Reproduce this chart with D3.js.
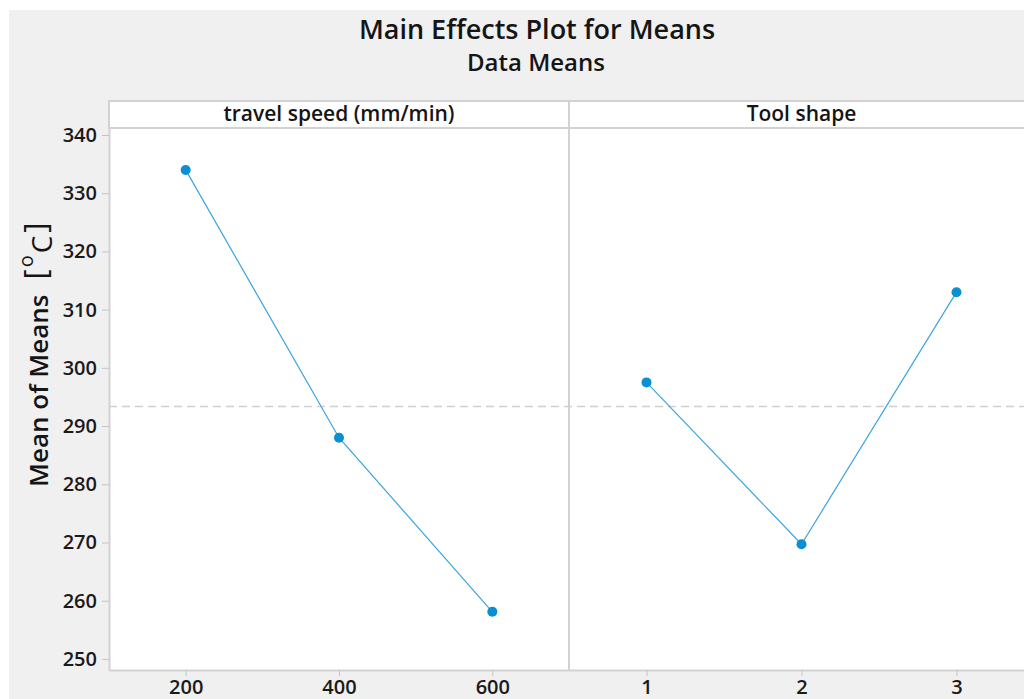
<!DOCTYPE html>
<html>
<head>
<meta charset="utf-8">
<script src="https://cdn.jsdelivr.net/npm/d3@7"></script>
<style>
  html, body { margin: 0; padding: 0; background: #fff; }
  svg { display: block; font-family: "Open Sans", "Noto Sans", sans-serif; }
</style>
</head>
<body>
<svg id="chart" width="1024" height="699"></svg>
<script>
// data
const speedLevels = [200, 400, 600];
const speedMeans = [334.0, 288.0, 258.1];
const shapeLevels = [1, 2, 3];
const shapeMeans = [297.5, 269.7, 313.0];
const yTicks = [250, 260, 270, 280, 290, 300, 310, 320, 330, 340];
const panelTitles = ["travel speed (mm/min)", "Tool shape"];

const grandMean = d3.mean(speedMeans);

const svg = d3.select("#chart");

// grey background of the figure
svg.append("rect")
  .attr("x", 9).attr("y", 10)
  .attr("width", 1015).attr("height", 689)
  .attr("fill", "#f0f0f0");

const plotTop = 128, plotBottom = 670, headTop = 101;

const y = d3.scaleLinear().domain([248.1, 341.2]).range([plotBottom, plotTop]);
const xSpeed = d3.scaleLinear().domain([100, 700]).range([109, 569]);
const xShape = d3.scaleLinear().domain([0.5, 3.5]).range([569, 1034]);

const panels = [
  { x: xSpeed, levels: speedLevels, means: speedMeans, title: panelTitles[0] },
  { x: xShape, levels: shapeLevels, means: shapeMeans, title: panelTitles[1] }
];

// plot areas + header strips
panels.forEach(p => {
  const [x0, x1] = p.x.range();
  svg.append("rect")
    .attr("x", x0).attr("y", plotTop)
    .attr("width", x1 - x0).attr("height", plotBottom - plotTop)
    .attr("fill", "#fff");
  svg.append("rect")
    .attr("x", x0).attr("y", headTop)
    .attr("width", x1 - x0).attr("height", plotTop - headTop)
    .attr("fill", "#fff")
    .attr("stroke", "#d2d2d2")
    .attr("stroke-width", 2);
  svg.append("text")
    .attr("x", (x0 + x1) / 2).attr("y", 121)
    .attr("text-anchor", "middle")
    .attr("font-size", 21)
    .attr("font-weight", 600)
    .attr("fill", "#151515")
    .text(p.title);
});

// panel separator
svg.append("line")
  .attr("x1", 569).attr("x2", 569).attr("y1", headTop).attr("y2", plotBottom)
  .attr("stroke", "#d2d2d2").attr("stroke-width", 2);

// grand mean reference line
svg.append("line")
  .attr("x1", 109).attr("x2", 1024)
  .attr("y1", y(grandMean)).attr("y2", y(grandMean))
  .attr("stroke", "#cfcfcf")
  .attr("stroke-width", 1.5)
  .attr("stroke-dasharray", "8,5");

// y axis
const yAxis = svg.append("g")
  .attr("transform", "translate(109,0)")
  .call(d3.axisLeft(y).tickValues(yTicks).tickSize(7).tickPadding(5).tickSizeOuter(0));
yAxis.select(".domain").attr("stroke", "#d2d2d2").attr("stroke-width", 2);
yAxis.selectAll(".tick line").attr("stroke", "#c4c4c4");
yAxis.selectAll(".tick text")
  .attr("font-size", 20).attr("font-weight", 600).attr("fill", "#1a1a1a")
  .attr("font-family", "Open Sans");

// x axes
panels.forEach(p => {
  const g = svg.append("g")
    .attr("transform", `translate(0,${plotBottom})`)
    .call(d3.axisBottom(p.x).tickValues(p.levels).tickFormat(d3.format("d"))
      .tickSize(6).tickPadding(4).tickSizeOuter(0));
  g.select(".domain").attr("stroke", "#d2d2d2").attr("stroke-width", 2);
  g.selectAll(".tick line").attr("stroke", "#c4c4c4");
  g.selectAll(".tick text")
    .attr("font-size", 20).attr("font-weight", 600).attr("fill", "#1a1a1a")
    .attr("font-family", "Open Sans");
});

// lines + markers
panels.forEach(p => {
  const pts = p.levels.map((l, i) => [p.x(l), y(p.means[i])]);
  svg.append("path")
    .attr("d", d3.line()(pts))
    .attr("fill", "none")
    .attr("stroke", "#3aa5dc")
    .attr("stroke-width", 1.2);
  svg.append("g").selectAll("circle")
    .data(pts)
    .join("circle")
    .attr("cx", d => d[0]).attr("cy", d => d[1])
    .attr("r", 5)
    .attr("fill", "#0a8fd2");
});

// titles
svg.append("text")
  .attr("x", 537).attr("y", 39)
  .attr("text-anchor", "middle")
  .attr("font-size", 27)
  .attr("font-weight", 600)
  .attr("fill", "#151515")
  .text("Main Effects Plot for Means");
svg.append("text")
  .attr("x", 536).attr("y", 71)
  .attr("text-anchor", "middle")
  .attr("font-size", 24)
  .attr("font-weight", 600)
  .attr("fill", "#151515")
  .text("Data Means");

// y label with degree symbol as raised o
const yl = svg.append("text")
  .attr("transform", "translate(48,487) rotate(-90)")
  .attr("font-size", 26)
  .attr("font-weight", 600)
  .attr("fill", "#151515");
yl.append("tspan").text("Mean of Means");
yl.append("tspan").attr("font-size", 31).attr("font-weight", 400).attr("dx", 15).attr("dy", -2).text("[");
yl.append("tspan").attr("font-size", 20).attr("font-weight", 400).attr("dx", 2).attr("dy", -13).text("o");
yl.append("tspan").attr("font-size", 28).attr("font-weight", 400).attr("dx", 2).attr("dy", 19).text("C");
yl.append("tspan").attr("font-size", 31).attr("font-weight", 400).attr("dx", 3).attr("dy", -6).text("]");
</script>
</body>
</html>
